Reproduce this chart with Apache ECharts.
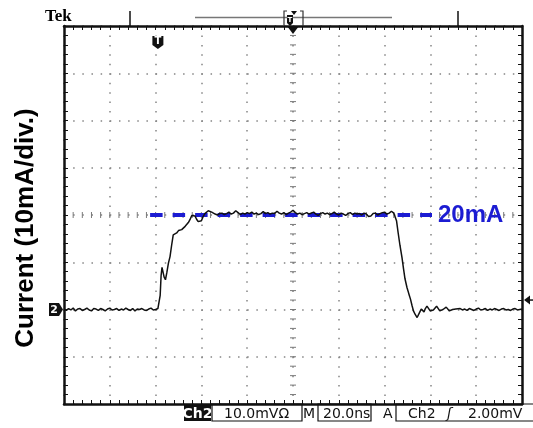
<!DOCTYPE html>
<html>
<head>
<meta charset="utf-8">
<script src="https://cdn.jsdelivr.net/npm/echarts@6/dist/echarts.min.js"></script>
<style>
  html, body { margin: 0; padding: 0; background: #fff; }
  #c { width: 533px; height: 428px; }
</style>
</head>
<body>
<div id="c"></div>
<script>
// Horizontal: 20 ns/div over 10 divisions; vertical: 10 mA/div over 8 divisions
const timeRangeNs = [0, 200];
const timeStepNs = 20;
const currentRangeMa = [-20, 60];
const currentStepMa = 10;
const graticuleCentre = [100, 20];   // ns, mA

// Captured current pulse (ns, mA)
const baselineTimeNs = [0,1,2,3,4,5,6,7,8,9,10,11,12,13,14,15,16,17,18,19,20,21,22,23,24,25,26,27,28,29,30,31,32,33,34,35,36,37,38,39,40,41];
const baselineCurrentMa = [0.1,-0.2,0.2,-0.1,0.3,-0.3,0.1,0.2,-0.2,0.0,0.3,-0.1,-0.3,0.2,0.1,-0.2,0.2,0.0,-0.3,0.1,0.3,-0.1,0.0,0.2,-0.2,0.1,-0.1,0.3,0.0,-0.2,0.2,-0.3,0.1,0.0,0.2,-0.1,-0.2,0.1,0.3,-0.1,0.0,0.2];

const riseTimeNs = [41.6,42.0,42.4,42.8,43.2,43.7,44.3,44.9,45.6,46.3,47.0,47.7,48.4,49.2,50.0,50.7,51.4,52.2,52.9,53.6,54.3,55.0,55.8,56.5,57.2,57.9,58.6,59.3,60.0,60.7,61.5,62.3,63.0,63.8,64.5];
const riseCurrentMa = [0.4,3.0,7.2,8.9,8.5,6.9,6.3,7.8,9.8,11.2,13.6,15.8,16.1,16.2,16.7,16.5,16.9,17.2,17.6,17.9,18.4,19.0,19.9,19.6,19.8,19.1,18.6,18.3,18.8,19.6,20.3,20.7,20.9,20.8,20.6];

const topTimeNs = [65,66,67,68,69,70,71,72,73,74,75,76,77,78,79,80,81,82,83,84,85,86,87,88,89,90,91,92,93,94,95,96,97,98,99,100,101,102,103,104,105,106,107,108,109,110,111,112,113,114,115,116,117,118,119,120,121,122,123,124,125,126,127,128,129,130,131,132,133,134,135,136,137,138,139,140,141,142,143,144];
const topCurrentMa = [20.5,20.2,20.0,20.3,20.4,20.1,20.3,20.6,20.2,20.4,20.9,20.5,20.1,20.4,20.2,20.5,20.3,20.6,20.2,20.4,20.1,20.3,20.7,20.3,20.5,20.2,20.4,20.3,20.8,20.4,20.2,20.5,20.1,20.4,20.6,21.0,20.5,20.2,20.4,20.1,20.3,20.5,20.2,20.4,20.6,20.2,19.9,20.3,20.5,20.2,20.4,20.1,20.3,20.6,20.2,20.0,20.4,20.2,19.9,20.3,20.5,20.1,20.4,20.2,20.3,20.0,20.4,20.2,19.7,19.8,20.3,20.4,20.0,20.3,20.5,20.6,20.2,20.4,20.8,20.4];

const fallTimeNs = [144.6,145.2,145.9,146.7,147.6,148.3,148.9,149.8,150.6,151.3,152.0,152.6,153.3,154.2,154.8,155.4,156.0,156.6,157.2,157.8,158.5,159.2,159.9,160.6,161.3,162.0,162.7,163.4,164.1,164.8,165.5,166.2,166.9,167.6,168.3,169.0,169.7,170.4,171.1,171.8];
const fallCurrentMa = [20.0,18.8,16.3,13.6,11.0,8.5,6.5,4.6,3.3,2.2,0.8,-0.3,-1.0,-1.7,-1.4,-0.5,0.1,-0.3,-0.5,0.2,0.7,0.4,-0.3,-0.5,-0.1,0.3,0.7,0.3,-0.3,-0.4,0.0,0.4,0.5,0.1,-0.3,-0.4,0.0,0.3,0.1,-0.2];

const tailTimeNs = [173,174,175,176,177,178,179,180,181,182,183,184,185,186,187,188,189,190,191,192,193,194,195,196,197,198,199,200];
const tailCurrentMa = [0.2,-0.1,0.1,-0.2,0.2,0.0,-0.2,0.1,0.3,-0.1,0.0,0.2,-0.2,0.1,-0.1,0.2,0.0,-0.2,0.1,0.2,-0.1,0.0,-0.2,0.1,0.2,-0.1,0.0,0.1];

// Reference level annotation
const refLevelMa = 20;
const refLevelSpanNs = [37.6, 160.7];
const refLevelLabel = '20mA';

// Trigger position / level and channel ground marker
const triggerTimeNs = 41;
const triggerLevelMa = 2;      // 2.00 mV at 10.0 mV/div
const channelGroundMa = 0;

const axisTitle = 'Current (10mA/div.)';
const statusChannel = 'Ch2';
const statusScale = '10.0mV\u03A9';
const statusTimebase = '20.0ns';
const statusTrigger = ['Ch2', '\u0283', '2.00mV'];

const traceTimeNs = [].concat(baselineTimeNs, riseTimeNs, topTimeNs, fallTimeNs, tailTimeNs);
const traceCurrentMa = [].concat(baselineCurrentMa, riseCurrentMa, topCurrentMa, fallCurrentMa, tailCurrentMa);
const traceData = traceTimeNs.map((t, i) => [t, traceCurrentMa[i]]);

// Minor graticule ticks along the two centre lines (every 0.2 div)
const centreTicks = [];
for (let v = currentRangeMa[0] + 2; v < currentRangeMa[1]; v += 2) centreTicks.push([graticuleCentre[0], v, 1]);
for (let t = timeRangeNs[0] + 4; t < timeRangeNs[1]; t += 4) centreTicks.push([t, graticuleCentre[1], 0]);

const INK = '#111';
const DOT = '#858585';
const BLUE = '#1c1cd2';

function frameX(position, showSplit) {
  return {
    type: 'value', position: position,
    min: timeRangeNs[0], max: timeRangeNs[1], interval: timeStepNs,
    axisLine: { show: true, onZero: false, lineStyle: { color: INK, width: 2.5 } },
    axisTick: { show: true, inside: true, length: 4, lineStyle: { color: INK, width: 1 } },
    minorTick: { show: true, splitNumber: 5, length: 4, lineStyle: { color: INK, width: 1 } },
    axisLabel: { show: false },
    splitLine: { show: showSplit, lineStyle: { color: DOT, width: 1.5, type: [1.5, 7.95] } }
  };
}
function frameY(position, showSplit) {
  return {
    type: 'value', position: position,
    min: currentRangeMa[0], max: currentRangeMa[1], interval: currentStepMa,
    axisLine: { show: true, onZero: false, lineStyle: { color: INK, width: 2.5 } },
    axisTick: { show: true, inside: true, length: 4, lineStyle: { color: INK, width: 1 } },
    minorTick: { show: true, splitNumber: 5, length: 4, lineStyle: { color: INK, width: 1 } },
    axisLabel: { show: false },
    splitLine: { show: showSplit, lineStyle: { color: DOT, width: 1.5, type: [1.5, 7.66] } }
  };
}

const chart = echarts.init(document.getElementById('c'), null, { renderer: 'canvas' });
chart.setOption({
  animation: false,
  backgroundColor: '#fff',
  grid: { left: 64, right: 11, top: 26, bottom: 24, containLabel: false },
  xAxis: [frameX('bottom', true), frameX('top', false)],
  yAxis: [frameY('left', true), frameY('right', false)],
  series: [
    {
      type: 'custom', name: 'centre ticks', silent: true, clip: false, z: 1,
      data: centreTicks,
      renderItem: function (params, api) {
        const p = api.coord([api.value(0), api.value(1)]);
        const across = api.value(2) === 1;
        return {
          type: 'line',
          shape: across ? { x1: p[0] - 3, y1: p[1], x2: p[0] + 3, y2: p[1] }
                        : { x1: p[0], y1: p[1] - 3, x2: p[0], y2: p[1] + 3 },
          style: { stroke: '#7a7a7a', lineWidth: 1 }
        };
      }
    },
    {
      type: 'line', name: 'level', silent: true, z: 2,
      data: [[refLevelSpanNs[0], refLevelMa], [refLevelSpanNs[1], refLevelMa]],
      symbol: 'none',
      lineStyle: { color: BLUE, width: 4, type: [12.5, 10] },
      endLabel: {
        show: true, formatter: refLevelLabel, color: BLUE, distance: 6,
        fontSize: 24, fontWeight: 'bold', fontFamily: '"Liberation Sans", Arial, sans-serif'
      }
    },
    {
      type: 'line', name: 'Ch2', silent: true, z: 3,
      data: traceData, symbol: 'none',
      lineStyle: { color: INK, width: 1.5 }
    }
  ]
});

// Screen annotations placed from the chart's own scales
const px = (t, ma) => chart.convertToPixel({ gridIndex: 0 }, [t, ma]);
const topLeft = px(timeRangeNs[0], currentRangeMa[1]);
const botRight = px(timeRangeNs[1], currentRangeMa[0]);
const centreX = px(graticuleCentre[0], 0)[0];
const trigX = px(triggerTimeNs, 0)[0];
const gndY = px(0, channelGroundMa)[1];
const trigY = px(0, triggerLevelMa)[1];
const yTop = topLeft[1], yBot = botRight[1], xR = botRight[0];

const mono = '14px "DejaVu Sans", sans-serif';
const sy = yBot + 10;

chart.setOption({
  graphic: [
    { type: 'text', left: 45, top: 8, style: { text: 'Tek', font: 'bold 17px "Liberation Serif", serif', fill: '#000' } },
    // record window indicator
    { type: 'line', shape: { x1: 130, y1: 11, x2: 130, y2: yTop }, style: { stroke: INK, lineWidth: 1.5 } },
    { type: 'line', shape: { x1: 458, y1: 11, x2: 458, y2: yTop }, style: { stroke: INK, lineWidth: 1.5 } },
    { type: 'line', shape: { x1: 195, y1: 17.5, x2: 392, y2: 17.5 }, style: { stroke: '#777', lineWidth: 1.5 } },
    { type: 'polyline', shape: { points: [[centreX - 6, 11], [centreX - 9, 11], [centreX - 9, 25]] }, style: { stroke: '#333', lineWidth: 1.2, fill: null } },
    { type: 'polyline', shape: { points: [[centreX + 7, 11], [centreX + 10, 11], [centreX + 10, 25]] }, style: { stroke: '#333', lineWidth: 1.2, fill: null } },
    { type: 'polygon', shape: { points: [[centreX - 2, 11], [centreX + 4, 11], [centreX + 1, 15]] }, style: { fill: INK } },
    { type: 'polygon', shape: { points: [[centreX - 6, 15], [centreX, 15], [centreX, 23], [centreX - 3, 26], [centreX - 6, 23]] }, style: { fill: INK } },
    { type: 'text', x: centreX - 3, y: 20, style: { text: 'T', font: 'bold 7px "DejaVu Sans"', fill: '#fff', align: 'center', verticalAlign: 'middle' } },
    // centre-screen pointer
    { type: 'polygon', shape: { points: [[centreX - 6, yTop], [centreX + 6, yTop], [centreX, yTop + 8]] }, style: { fill: INK } },
    // trigger position
    { type: 'polygon', shape: { points: [[trigX - 5.5, 36], [trigX + 5.5, 36], [trigX + 5.5, 45], [trigX, 49], [trigX - 5.5, 45]] }, style: { fill: INK } },
    { type: 'text', x: trigX, y: 41.5, style: { text: 'T', font: 'bold 10px "DejaVu Sans"', fill: '#fff', align: 'center', verticalAlign: 'middle' } },
    // channel ground marker
    { type: 'polygon', shape: { points: [[49, gndY - 6.5], [59, gndY - 6.5], [63, gndY], [59, gndY + 6.5], [49, gndY + 6.5]] }, style: { fill: INK } },
    { type: 'text', x: 54, y: gndY + 0.5, style: { text: '2', font: 'bold 11px "DejaVu Sans"', fill: '#fff', align: 'center', verticalAlign: 'middle' } },
    // trigger level pointer
    { type: 'polygon', shape: { points: [[xR + 2, trigY], [xR + 8, trigY - 4.5], [xR + 8, trigY + 4.5]] }, style: { fill: INK } },
    { type: 'line', shape: { x1: xR + 7, y1: trigY, x2: xR + 11, y2: trigY }, style: { stroke: INK, lineWidth: 1.5 } },
    // vertical axis title
    { type: 'text', x: 26, y: 228, rotation: Math.PI / 2, style: { text: axisTitle, font: 'bold 26px "Liberation Sans", Arial, sans-serif', fill: '#000', align: 'center', verticalAlign: 'middle' } },
    // status readout
    { type: 'rect', shape: { x: 184, y: yBot + 1, width: 27, height: 16 }, style: { fill: INK } },
    { type: 'text', x: 197.5, y: sy, style: { text: statusChannel, font: 'bold ' + mono, fill: '#fff', align: 'center', verticalAlign: 'middle' } },
    { type: 'rect', shape: { x: 212, y: yBot, width: 90, height: 17 }, style: { fill: null, stroke: INK, lineWidth: 1.2 } },
    { type: 'text', x: 224, y: sy, style: { text: statusScale, font: mono, fill: INK, verticalAlign: 'middle' } },
    { type: 'text', x: 303, y: sy, style: { text: 'M', font: mono, fill: INK, verticalAlign: 'middle' } },
    { type: 'rect', shape: { x: 318, y: yBot, width: 53, height: 17 }, style: { fill: null, stroke: INK, lineWidth: 1.2 } },
    { type: 'text', x: 323, y: sy, style: { text: statusTimebase, font: mono, fill: INK, verticalAlign: 'middle' } },
    { type: 'text', x: 383, y: sy, style: { text: 'A', font: mono, fill: INK, verticalAlign: 'middle' } },
    { type: 'rect', shape: { x: 396, y: yBot, width: 150, height: 17 }, style: { fill: null, stroke: INK, lineWidth: 1.2 } },
    { type: 'text', x: 408, y: sy, style: { text: statusTrigger[0], font: mono, fill: INK, verticalAlign: 'middle' } },
    { type: 'text', x: 447, y: sy, style: { text: statusTrigger[1], font: 'italic ' + mono, fill: INK, verticalAlign: 'middle' } },
    { type: 'text', x: 468, y: sy, style: { text: statusTrigger[2], font: mono, fill: INK, verticalAlign: 'middle' } }
  ]
});
</script>
</body>
</html>
